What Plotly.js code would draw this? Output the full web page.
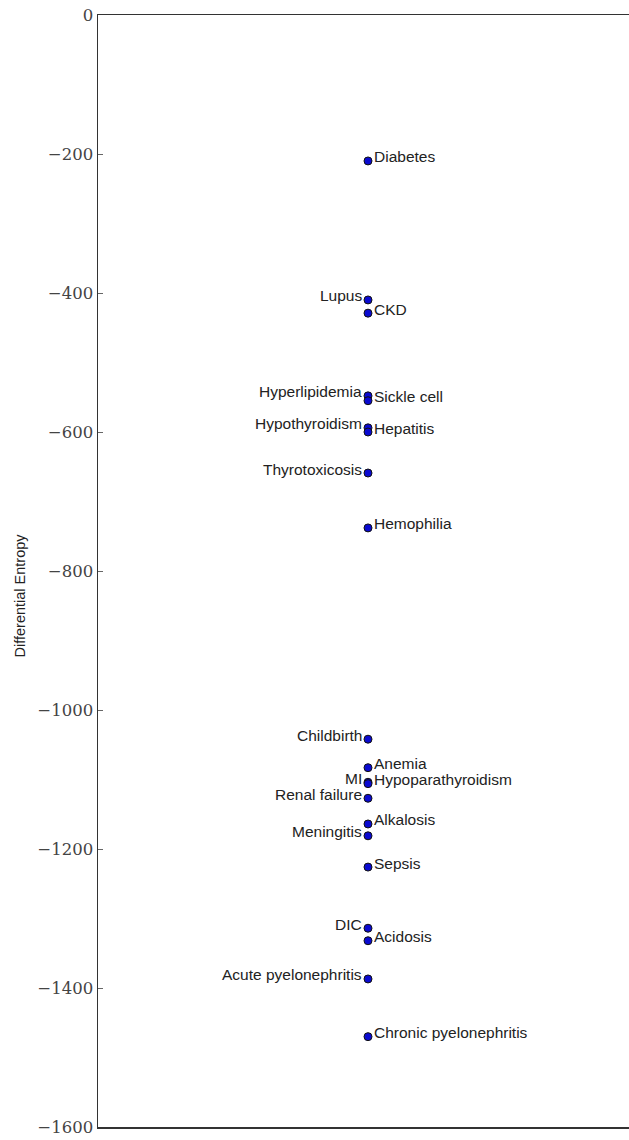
<!DOCTYPE html>
<html>
<head>
<meta charset="utf-8">
<script src="https://cdn.plot.ly/plotly-3.0.1.min.js"></script>
<style>
html,body{margin:0;padding:0;overflow:hidden;background:#fff;}
#chart{width:660px;height:1140px;}
</style>
</head>
<body>
<div id="chart"></div>
<script>
const diseases = ["Diabetes","Lupus","CKD","Hyperlipidemia","Sickle cell","Hypothyroidism","Hepatitis","Thyrotoxicosis","Hemophilia","Childbirth","Anemia","MI","Hypoparathyroidism","Renal failure","Alkalosis","Meningitis","Sepsis","DIC","Acidosis","Acute pyelonephritis","Chronic pyelonephritis"];
const entropy = [-210,-410,-429,-548,-555,-594,-600,-659,-738,-1042,-1083,-1104,-1106,-1127,-1164,-1181,-1226,-1314,-1332,-1387,-1470];
const leftLabeled = ["Lupus","Hyperlipidemia","Hypothyroidism","Thyrotoxicosis","Childbirth","MI","Renal failure","Meningitis","DIC","Acute pyelonephritis"];
const yTicks = [0,-200,-400,-600,-800,-1000,-1200,-1400,-1600];
const yTitle = "Differential Entropy";

const xs = diseases.map(() => 0);

const trace = {
  x: xs, y: entropy, mode: 'markers', type: 'scatter',
  marker: {size: 8, color: '#0a0ad0', line: {color: '#111', width: 1}},
  hoverinfo: 'text', text: diseases
};

const labelFont = {family: 'Liberation Sans, Arial, sans-serif', size: 15.5, color: '#222'};

const annotations = diseases.map((d, i) => {
  const left = leftLabeled.includes(d);
  return {
    x: xs[i], y: entropy[i], xref: 'x', yref: 'y', text: d, showarrow: false,
    xanchor: left ? 'right' : 'left', yanchor: 'middle',
    xshift: left ? -4 : 4, yshift: 4,
    font: labelFont
  };
});

annotations.push({
  xref: 'paper', yref: 'paper', x: 0, y: 0.478, xanchor: 'center', yanchor: 'middle',
  xshift: -78, textangle: -90, showarrow: false, text: yTitle,
  font: {family: 'Liberation Sans, Arial, sans-serif', size: 14.5, color: '#222'}
});

const layout = {
  width: 660, height: 1140,
  margin: {l: 98, r: 22, t: 15, b: 13},
  paper_bgcolor: '#fff', plot_bgcolor: '#fff',
  showlegend: false,
  xaxis: {range: [-1, 1], showticklabels: false, showgrid: false, zeroline: false,
    showline: true, mirror: true, linecolor: '#333', linewidth: 1.5, ticks: ''},
  yaxis: {range: [-1600, 0], tickvals: yTicks, ticktext: yTicks.map(v => v < 0 ? '\u2212' + Math.abs(v) : String(v)),
    showgrid: false, zeroline: false, showline: true, mirror: 'ticks', linecolor: '#333', linewidth: 1.5,
    ticks: 'inside', ticklen: 5, tickcolor: '#666', tickwidth: 1,
    tickfont: {family: 'DejaVu Serif, Liberation Serif, serif', size: 16.5, color: '#444'},
    automargin: false},
  annotations: annotations
};

Plotly.newPlot('chart', [trace], layout, {displayModeBar: false, staticPlot: true});
</script>
</body>
</html>
